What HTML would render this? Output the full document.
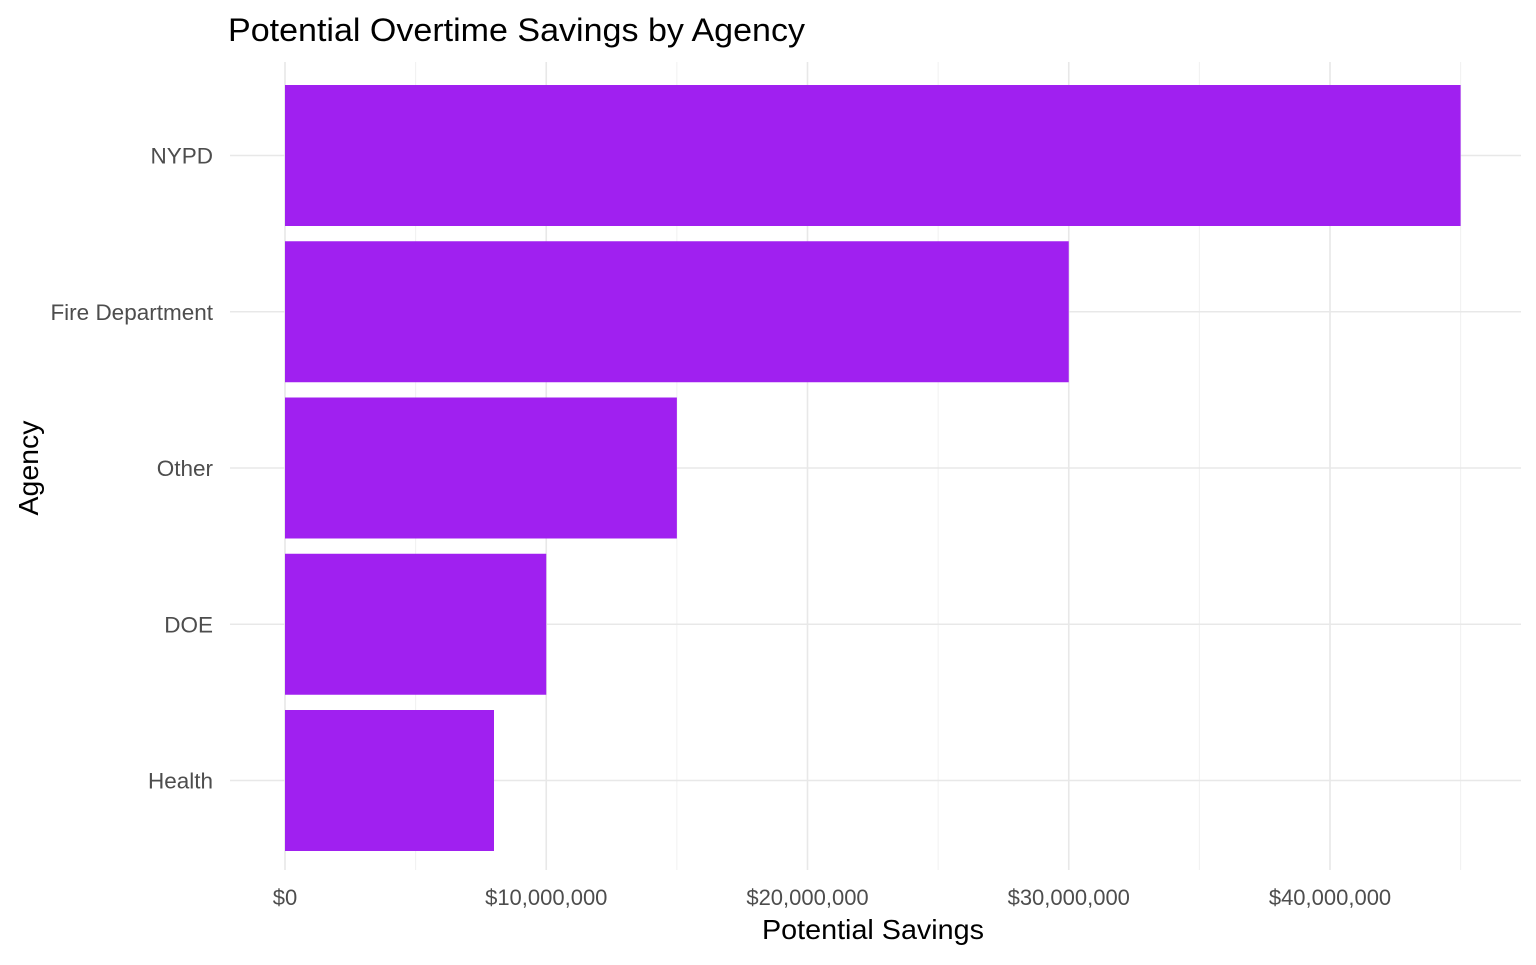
<!DOCTYPE html>
<html><head><meta charset="utf-8">
<style>
html,body{margin:0;padding:0;background:#fff;}
svg text{font-family:"Liberation Sans",Arial,sans-serif;}
</style></head>
<body>
<svg id="chart" width="1536" height="960" xmlns="http://www.w3.org/2000/svg">
<text x="228" y="41" font-size="32" textLength="577" lengthAdjust="spacingAndGlyphs" fill="#000">Potential Overtime Savings by Agency</text>
<g id="grid"></g>
<g id="bars"></g>
<g id="labels"></g>
<text x="873" y="939" font-size="28" textLength="222" lengthAdjust="spacingAndGlyphs" text-anchor="middle" fill="#000">Potential Savings</text>
<text transform="translate(38,468) rotate(-90)" font-size="28" textLength="95" lengthAdjust="spacingAndGlyphs" text-anchor="middle" fill="#000">Agency</text>
</svg>
<script>
const categories = ["NYPD", "Fire Department", "Other", "DOE", "Health"];
const values = [45000000, 30000000, 15000000, 10000000, 8000000];
const majorTicks = [0, 10000000, 20000000, 30000000, 40000000];
const minorTicks = [5000000, 15000000, 25000000, 35000000, 45000000];
const tickLabels = ["$0", "$10,000,000", "$20,000,000", "$30,000,000", "$40,000,000"];

const NS = "http://www.w3.org/2000/svg";
const panelL = 230, panelR = 1521, panelT = 62, panelB = 870;
const x0 = 285, pxPerUnit = (1330 - 285) / 40000000;
function xs(v){ return x0 + v * pxPerUnit; }
const band = 156.25, firstY = 155.5;
function ys(i){ return firstY + i * band; }
const barH = 141;

const grid = document.getElementById('grid');
const bars = document.getElementById('bars');
const labels = document.getElementById('labels');
function mk(tag, attrs, parent){
  const e = document.createElementNS(NS, tag);
  for (const k in attrs) e.setAttribute(k, attrs[k]);
  parent.appendChild(e); return e;
}
minorTicks.forEach(v => {
  const l = mk('line', {x1: xs(v), x2: xs(v), y1: panelT, y2: panelB, stroke: '#f0f0f0', 'stroke-width': 1}, grid);
  
  
});
majorTicks.forEach((v, i) => {
  const l = mk('line', {x1: xs(v), x2: xs(v), y1: panelT, y2: panelB, stroke: '#e8e8e8', 'stroke-width': 1.6}, grid);
  
  
  const t = mk('text', {x: xs(v), y: 905, 'font-size': 22, 'text-anchor': 'middle', fill: '#4d4d4d'}, labels);
  t.textContent = tickLabels[i];
  
  
});
categories.forEach((c, i) => {
  const l = mk('line', {x1: panelL, x2: panelR, y1: ys(i), y2: ys(i), stroke: '#e8e8e8', 'stroke-width': 1.6}, grid);
  
  
  const r = mk('rect', {x: xs(0), y: ys(i) - barH / 2, width: xs(values[i]) - xs(0), height: barH, fill: '#a020f0'}, bars);
  
  
  const t = mk('text', {x: 213, y: ys(i) + 8, 'font-size': 22.5, 'text-anchor': 'end', fill: '#4d4d4d'}, labels);
  t.textContent = c;
  
  
});
</script>
</body></html>
